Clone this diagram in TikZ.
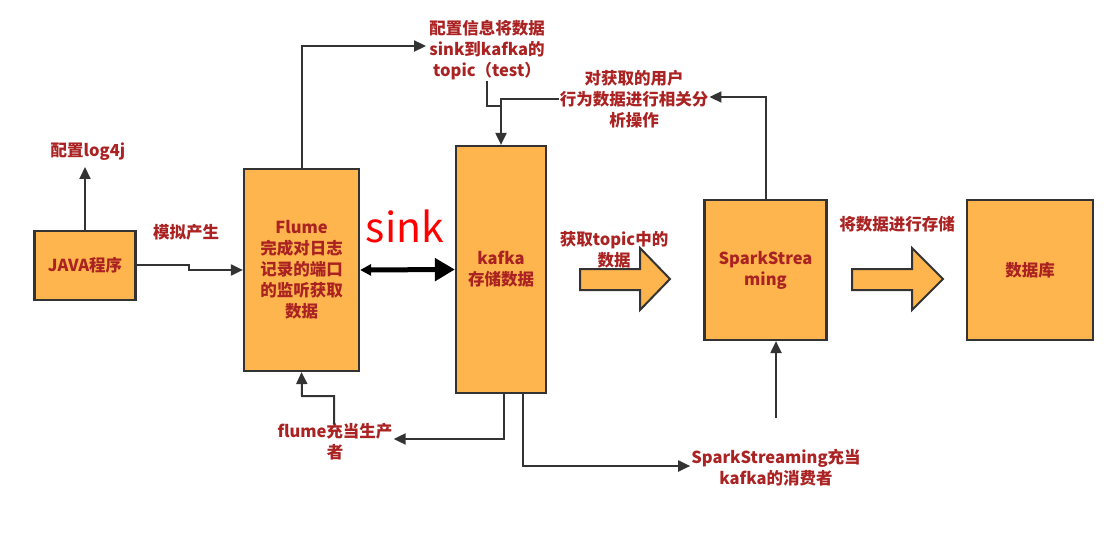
\documentclass[tikz,border=0pt]{standalone}
\usepackage{fontspec}
\setmainfont{Noto Sans CJK SC}
\usetikzlibrary{arrows.meta}
\definecolor{boxfill}{RGB}{255,181,77}
\definecolor{edgec}{RGB}{51,51,51}
\definecolor{lblc}{RGB}{170,34,34}
\begin{document}
\begin{tikzpicture}[x=1pt,y=-1pt,
  txt/.style={text=lblc,font=\bfseries\fontsize{16.5}{21}\selectfont,align=center},
  box/.style={txt,draw=edgec,fill=boxfill,line width=2.2pt,inner sep=0pt},
  lab/.style={txt,inner sep=1pt},
  conn/.style={draw=edgec,line width=2pt,-{Triangle[length=12pt,width=11pt]}},
  plain/.style={draw=edgec,line width=2pt},
  blockarrow/.style={draw=edgec,fill=boxfill,line width=2pt,line join=miter},
  sinkarrow/.style={draw=black,line width=5pt,{Triangle[length=11pt,width=11pt]}-{Triangle[length=20pt,width=22pt]}}]
\useasboundingbox (0,0) rectangle (1115,537);
% boxes
\node[box,minimum width=101pt,minimum height=69pt] (java) at (85,265.5) {JAVA程序};
\node[box,minimum width=115pt,minimum height=202pt] (flume) at (301.5,270) {Flume\\完成对日志\\记录的端口\\的监听获取\\数据};
\node[box,minimum width=90pt,minimum height=247pt] (kafka) at (501,269.5) {kafka\\存储数据};
\node[box,minimum width=122pt,minimum height=140pt] (spark) at (765.5,270) {SparkStrea\\ming};
\node[box,minimum width=126pt,minimum height=140pt] (db) at (1030,270) {数据库};
% labels
\node[lab] (log4j) at (88,152) {配置log4j};
\node[lab] (moni) at (186,232) {模拟产生};
\node[text=red,font=\fontsize{41}{41}\selectfont,inner sep=0pt] (sink) at (405,226) {sink};
\node[lab] (topiclab) at (487,50) {配置信息将数据\\sink到kafka的\\topic（test）};
\node[lab] (analysis) at (634,99) {对获取的用户\\行为数据进行相关分\\析操作};
\node[lab] (getlab) at (614,250) {获取topic中的\\数据};
\node[lab] (storelab) at (897,224) {将数据进行存储};
\node[lab] (flumelab) at (335,442) {flume充当生产\\者};
\node[lab] (sparklab) at (776,468) {SparkStreaming充当\\kafka的消费者};
% block arrows
\draw[blockarrow] (580,269) -- (640,269) -- (640,248) -- (670,279) -- (640,310) -- (640,290) -- (580,290) -- cycle;
\draw[blockarrow] (852,269) -- (912,269) -- (912,248) -- (943,279) -- (912,310) -- (912,290) -- (852,290) -- cycle;
% connectors
\draw[conn] (java.north) -- (java.north |- 0,167);
\draw[conn] ([yshift=1pt]java.east) -- (189,264.5) -- (189,270) -- (flume.west);
\draw[conn] (flume.north) |- ([yshift=4pt,xshift=-2pt]topiclab.west);
\coordinate (kjoin) at (501,106);
\draw[plain] (topiclab.south) |- (kjoin);
\draw[conn] (analysis.west) -| (kafka.north);
\draw[conn] (spark.north) |- ([yshift=2pt]analysis.east);
\draw[sinkarrow] (flume.east) -- (kafka.west);
\draw[conn] ([xshift=-1pt,yshift=-2pt]flumelab.north) |- (302,396) -- (flume.south);
\draw[conn] ([xshift=3pt]kafka.south) |- ([yshift=3pt]flumelab.east);
\draw[conn] ([xshift=22pt]kafka.south) |- ([yshift=2pt]sparklab.west);
\coordinate (sparkin) at (776,418);
\draw[conn] (sparkin) -- (sparkin |- spark.south);
\end{tikzpicture}
\end{document}
